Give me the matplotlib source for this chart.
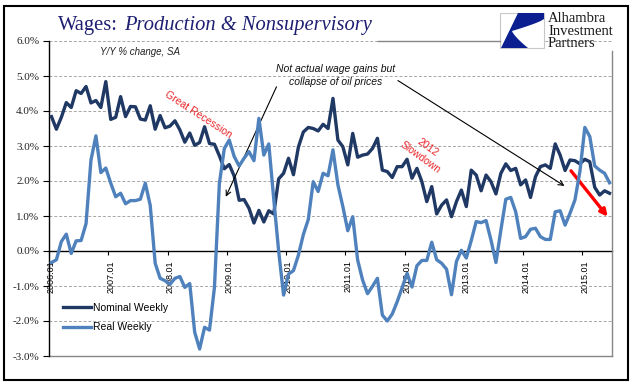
import matplotlib
matplotlib.use('Agg')
import matplotlib.pyplot as plt
import numpy as np
from matplotlib.lines import Line2D
from matplotlib.patches import Polygon, Rectangle
from matplotlib.ticker import FixedLocator, FixedFormatter, FuncFormatter, NullFormatter

plt.rcParams['font.family'] = ['Liberation Sans', 'DejaVu Sans']

W, H = 641, 392

# Monthly Y/Y % change, Jan 2006 - Jun 2015
nominal = [3.84, 3.48, 3.82, 4.24, 4.10, 4.58, 4.50, 4.70, 4.23, 4.30, 4.10, 4.84,
           3.76, 3.82, 4.41, 3.84, 4.13, 4.12, 3.77, 3.74, 4.15, 3.48, 3.87, 3.52,
           3.57, 3.72, 3.46, 3.11, 3.37, 3.02, 3.10, 3.55, 3.07, 3.05, 2.72, 2.35,
           2.47, 2.14, 1.45, 1.47, 1.22, 0.80, 1.16, 0.83, 1.15, 1.06, 2.06, 2.22,
           2.65, 2.18, 2.97, 3.40, 3.53, 3.50, 3.43, 3.62, 3.50, 4.36, 3.17, 2.98,
           2.46, 3.36, 2.68, 2.74, 2.77, 2.93, 3.22, 2.31, 2.27, 2.10, 2.41, 2.41,
           2.62, 2.08, 2.36, 1.98, 1.41, 1.84, 1.06, 1.31, 1.46, 0.98, 1.41, 1.74,
           1.27, 2.31, 2.17, 1.72, 2.17, 1.98, 1.63, 2.22, 2.49, 2.30, 2.36, 1.89,
           2.03, 1.53, 2.12, 2.41, 2.46, 2.36, 3.06, 2.74, 2.30, 2.60, 2.58, 2.49,
           2.62, 2.55, 1.82, 1.60, 1.72, 1.65]
real = [-0.33, -0.25, 0.27, 0.48, -0.07, 0.29, 0.30, 0.78, 2.60, 3.29, 2.24, 2.37,
        1.94, 1.55, 1.65, 1.35, 1.44, 1.44, 1.48, 1.94, 1.30, -0.35, -0.78, -0.85,
        -0.95, -0.78, -0.73, -1.04, -0.93, -2.32, -2.80, -2.18, -2.26, -1.04, 1.93, 2.93,
        3.17, 2.70, 2.43, 2.65, 2.84, 2.58, 3.79, 2.74, 3.06, 1.50, 0.00, -1.26,
        -0.66, -0.56, -0.12, 0.47, 0.90, 1.98, 1.70, 2.22, 2.15, 2.89, 1.89, 1.27,
        0.58, 0.98, -0.26, -0.83, -1.22, -1.01, -0.78, -1.83, -2.00, -1.80, -1.45, -1.05,
        -0.64, -1.03, -0.42, -0.27, -0.27, 0.25, -0.25, -0.35, -0.52, -1.25, -0.30, 0.02,
        -0.20, 0.30, 0.84, 0.81, 0.87, 0.31, -0.33, 0.60, 1.48, 1.53, 1.12, 0.36,
        0.41, 0.62, 0.65, 0.41, 0.33, 0.33, 1.12, 1.15, 0.74, 1.08, 1.46, 2.27,
        3.53, 3.27, 2.43, 2.31, 2.22, 1.95]
year_labels = ['2006.01', '2007.01', '2008.01', '2009.01', '2010.01',
               '2011.01', '2012.01', '2013.01', '2014.01', '2015.01']
y_ticks = [-3, -2, -1, 0, 1, 2, 3, 4, 5, 6]
series_names = ['Nominal Weekly', 'Real Weekly']

NAVY = '#1F3864'
LIGHT = '#4F81BD'
RED = '#E8262A'


def P(x, y):
    return (x / W, 1 - y / H)


fig = plt.figure(figsize=(W / 100, H / 100), dpi=100)
fig.patch.set_facecolor('white')

# plot area
ax = fig.add_axes([49 / W, 1 - 356 / H, (612 - 49) / W, (356 - 41) / H])
n = len(nominal)
x = np.arange(n) + 0.5
ax.set_xlim(0, n)
ax.set_ylim(-3, 6)

ax.set_yticks(y_ticks)
ax.yaxis.set_major_formatter(FuncFormatter(lambda v, p: f'{v:.1f}%'))
ax.grid(axis='y', color='#A6A6A6', linestyle=(0, (3, 2)), linewidth=0.7)
ax.set_axisbelow(True)

ax.spines['top'].set_visible(False)
ax.spines['right'].set_visible(False)
ax.spines['left'].set_color('black')
ax.spines['left'].set_linewidth(1.0)
ax.spines['bottom'].set_position(('data', 0))
ax.spines['bottom'].set_color('black')
ax.spines['bottom'].set_linewidth(1.0)
ax.axhline(-3, color='#868686', lw=1.0, clip_on=False, zorder=1)

year_pos = list(range(0, 12 * len(year_labels), 12))
ax.xaxis.set_major_locator(FixedLocator(year_pos))
ax.xaxis.set_major_formatter(NullFormatter())
ax.xaxis.set_minor_locator(FixedLocator([p + 0.5 for p in year_pos]))
ax.xaxis.set_minor_formatter(FixedFormatter(year_labels))
ax.tick_params(axis='x', which='major', direction='out', length=3, width=0.8, color='black')
ax.tick_params(axis='x', which='minor', length=0, pad=6.5, labelrotation=90,
               labelsize=6.5, labelcolor='black')
ax.tick_params(axis='y', direction='out', length=4, width=0.8, pad=3,
               labelsize=8, labelcolor='#222222')
for lbl in ax.get_yticklabels():
    lbl.set_fontfamily('Liberation Serif')

ax.plot(x, nominal, color=NAVY, lw=2.4, label=series_names[0], zorder=3)
ax.plot(x, real, color=LIGHT, lw=2.4, label=series_names[1], zorder=4)

ax.legend(loc='upper left', bbox_to_anchor=P(63, 303), bbox_transform=fig.transFigure,
          frameon=False, fontsize=7.5, handlelength=2.7, handletextpad=0.15,
          labelspacing=0.9, borderpad=0, borderaxespad=0)

# annotations
ax.text(10.3, 5.69, 'Y/Y % change, SA', style='italic', fontsize=7, ha='left',
        va='center', color='#222222')
ax.text(58.0, 5.02, 'Not actual wage gains but\ncollapse of oil prices', style='italic',
        fontsize=7.5, ha='center', va='center', linespacing=1.4, color='#111111')
ax.annotate('', xy=(35.8, 1.55), xytext=(46.06, 4.69),
            arrowprops=dict(arrowstyle='->', color='black', lw=0.8,
                            shrinkA=0, shrinkB=0, mutation_scale=9))
ax.annotate('', xy=(104.37, 1.86), xytext=(70.65, 4.87),
            arrowprops=dict(arrowstyle='->', color='black', lw=0.8,
                            shrinkA=0, shrinkB=0, mutation_scale=9))
ax.annotate('', xy=(113.13, 0.98), xytext=(105.7, 2.29),
            arrowprops=dict(arrowstyle='-|>', color='#FF0000', lw=2.4,
                            shrinkA=0, shrinkB=0, mutation_scale=10))
ax.text(30.14, 3.89, 'Great Recession', color=RED, fontsize=7.5, rotation=-33,
        rotation_mode='anchor', ha='center', va='center')
ax.text(75.95, 2.81, '2012\nSlowdown', color=RED, fontsize=7.5, rotation=-36,
        rotation_mode='anchor', ha='center', va='center', linespacing=1.35,
        multialignment='center')

# plot-area border pieces (gray)
fig.add_artist(Line2D([P(612, 51)[0], P(612, 356)[0]], [P(612, 51)[1], P(612, 356)[1]],
                      transform=fig.transFigure, color='#868686', lw=1.0))
fig.add_artist(Line2D([P(378, 41)[0], P(500, 41)[0]], [P(378, 41)[1], P(500, 41)[1]],
                      transform=fig.transFigure, color='#868686', lw=1.0))

# outer frame
x0, y0 = P(4, 380)
x1, y1 = P(628, 6)
fig.add_artist(Rectangle((x0, y0), x1 - x0, y1 - y0, transform=fig.transFigure,
                         fill=False, edgecolor='black', lw=1.5))

# title
TNAVY = '#1E1E72'
t1 = fig.text(*P(58, 30), 'Wages:', fontfamily='Liberation Serif', fontsize=14.8,
              color=TNAVY, va='baseline', ha='left')
fig.canvas.draw()
bb = t1.get_window_extent()
fig.text((bb.x1 + 6) / W, P(0, 30)[1], 'Production & Nonsupervisory',
         fontfamily='Liberation Serif', style='italic', fontsize=14.8, color=TNAVY,
         va='baseline', ha='left')

# logo
lx0, ly0 = P(500, 48)
lx1, ly1 = P(544, 13)
fig.add_artist(Rectangle((lx0, ly0), lx1 - lx0, ly1 - ly0, transform=fig.transFigure,
                         facecolor='white', edgecolor='#C8C8C8', lw=0.8))
t = np.linspace(0, 1, 12)
upper_curve = [(544 - 32 * s, 19 + 12 * s ** 0.8) for s in t]
lower_curve = [(512 + 16 * s ** 1.3, 31 + 17 * s) for s in t]
pts = [(518, 13), (544, 13)] + upper_curve + lower_curve + [(501, 48)]
fig.add_artist(Polygon([P(a, b) for a, b in pts], closed=True, transform=fig.transFigure,
                       facecolor='#0B1F91', edgecolor='none'))
for i, word in enumerate(['Alhambra', 'Investment', 'Partners']):
    fig.text(*P(548, 18.5 + 12.7 * i), word, fontfamily='Liberation Serif', fontsize=10.5,
             color='#1A1A1A', va='center', ha='left')

fig.savefig('out.png', dpi=100, facecolor='white')
